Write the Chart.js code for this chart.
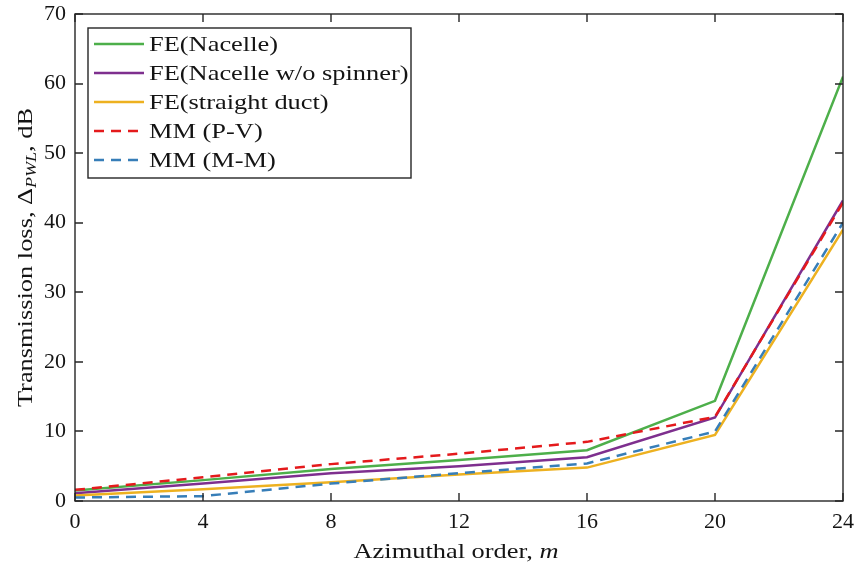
<!DOCTYPE html>
<html>
<head>
<title>Transmission loss vs azimuthal order</title>
<script src="https://cdn.jsdelivr.net/npm/chart.js"></script>
<style>
 body { margin: 0; background: #fff; }
</style>
</head>
<body>
<canvas id="tlChart" width="856" height="566"></canvas>
<script>
 // azimuthal orders and transmission loss (dB) per model
 const azimuthalOrder = [0, 4, 8, 12, 16, 20, 24];
 const feNacelle = [1.5, 3.0, 4.6, 5.9, 7.3, 14.4, 61.0];
 const feNacelleNoSpinner = [1.1, 2.5, 4.0, 5.0, 6.3, 12.0, 43.2];
 const feStraightDuct = [0.8, 1.7, 2.7, 3.8, 4.8, 9.5, 39.0];
 const mmPV = [1.6, 3.4, 5.3, 6.8, 8.5, 12.1, 42.9];
 const mmMM = [0.5, 0.7, 2.5, 4.0, 5.4, 10.0, 40.0];
 const xTicks = [0, 4, 8, 12, 16, 20, 24];
 const yTicks = [0, 10, 20, 30, 40, 50, 60, 70];

 const serif = "'Liberation Serif', 'DejaVu Serif', serif";
 const axisColor = '#262626';
 const textColor = '#141414';
 const SX = 1.2; // widen the narrow serif a little

 function pts(vals) {
  return azimuthalOrder.map((x, i) => ({ x: x, y: vals[i] }));
 }

 // draw text horizontally stretched by SX, returns drawn width
 function wideText(ctx, text, x, y, font, align) {
  ctx.font = font;
  const w = ctx.measureText(text).width * SX;
  let sx = x;
  if (align === 'center') sx = x - w / 2;
  else if (align === 'right') sx = x - w;
  ctx.save();
  ctx.translate(sx, y);
  ctx.scale(SX, 1);
  ctx.textAlign = 'left';
  ctx.fillText(text, 0, 0);
  ctx.restore();
  return w;
 }

 const series = [
  { label: 'FE(Nacelle)', data: feNacelle, color: '#4daf4a', dash: [], order: 4 },
  { label: 'FE(Nacelle w/o spinner)', data: feNacelleNoSpinner, color: '#7e2f8e', dash: [], order: 3 },
  { label: 'FE(straight duct)', data: feStraightDuct, color: '#edb120', dash: [], order: 2 },
  { label: 'MM (P-V)', data: mmPV, color: '#e41a1c', dash: [10, 7], order: 1 },
  { label: 'MM (M-M)', data: mmMM, color: '#377eb8', dash: [10, 7], order: 0 }
 ];

 // box, inward ticks on all four sides, tick labels
 const frame = {
  id: 'frame',
  afterDatasetsDraw(chart) {
   const { ctx, chartArea: a, scales } = chart;
   const L = Math.round(a.left), R = Math.round(a.right);
   const T = Math.round(a.top), B = Math.round(a.bottom);
   ctx.save();
   ctx.strokeStyle = axisColor;
   ctx.lineWidth = 1.4;
   ctx.beginPath();
   xTicks.forEach(v => {
    const px = Math.round(scales.x.getPixelForValue(v));
    ctx.moveTo(px, B); ctx.lineTo(px, B - 8);
    ctx.moveTo(px, T); ctx.lineTo(px, T + 8);
   });
   yTicks.forEach(v => {
    const py = Math.round(scales.y.getPixelForValue(v));
    ctx.moveTo(L, py); ctx.lineTo(L + 8, py);
    ctx.moveTo(R, py); ctx.lineTo(R - 8, py);
   });
   ctx.stroke();
   ctx.strokeRect(L, T, R - L, B - T);

   ctx.fillStyle = textColor;
   ctx.font = '22px ' + serif;
   ctx.textBaseline = 'middle';
   ctx.textAlign = 'right';
   yTicks.forEach(v => ctx.fillText(String(v), L - 9, scales.y.getPixelForValue(v)));
   ctx.textAlign = 'center';
   xTicks.forEach(v => ctx.fillText(String(v), scales.x.getPixelForValue(v), B + 21));
   ctx.restore();
  }
 };

 // legend box in the upper left of the plot
 const legendBox = {
  id: 'legendBox',
  afterDraw(chart) {
   const ctx = chart.ctx;
   const x0 = 88, y0 = 28, w = 323, h = 150, row = 29;
   ctx.save();
   ctx.fillStyle = '#fff';
   ctx.fillRect(x0, y0, w, h);
   ctx.strokeStyle = axisColor;
   ctx.lineWidth = 1.4;
   ctx.strokeRect(x0, y0, w, h);
   ctx.textBaseline = 'alphabetic';
   chart.data.datasets.forEach((ds, i) => {
    const y = y0 + 16 + i * row;
    ctx.strokeStyle = ds.borderColor;
    ctx.lineWidth = 2.5;
    ctx.setLineDash(ds.borderDash);
    ctx.beginPath();
    ctx.moveTo(x0 + 6, y);
    ctx.lineTo(x0 + 56, y);
    ctx.stroke();
    ctx.setLineDash([]);
    ctx.fillStyle = textColor;
    wideText(ctx, ds.label, x0 + 61, y + 7, '22px ' + serif, 'left');
   });
   ctx.restore();
  }
 };

 // axis titles, with subscript and italic parts
 const axisTitles = {
  id: 'axisTitles',
  afterDraw(chart) {
   const { ctx, chartArea: a } = chart;
   ctx.save();
   ctx.fillStyle = textColor;
   ctx.textBaseline = 'alphabetic';

   function runs(parts) {
    let total = 0;
    parts.forEach(p => { ctx.font = p.f; p.w = ctx.measureText(p.t).width * SX; total += p.w; });
    let px = -total / 2;
    parts.forEach(p => {
     wideText(ctx, p.t, px, p.dy, p.f, 'left');
     px += p.w;
    });
   }

   // x title
   ctx.save();
   ctx.translate((a.left + a.right) / 2 - 3, 558);
   runs([
    { t: 'Azimuthal order, ', f: '22px ' + serif, dy: 0 },
    { t: 'm', f: 'italic 22px ' + serif, dy: 0 }
   ]);
   ctx.restore();

   // y title, rotated
   ctx.save();
   ctx.translate(32, (a.top + a.bottom) / 2);
   ctx.rotate(-Math.PI / 2);
   runs([
    { t: 'Transmission loss, \u0394', f: '22px ' + serif, dy: 0 },
    { t: 'PWL', f: 'italic 15px ' + serif, dy: 4 },
    { t: ', dB', f: '22px ' + serif, dy: 0 }
   ]);
   ctx.restore();
   ctx.restore();
  }
 };

 const chart = new Chart(document.getElementById('tlChart'), {
  type: 'line',
  data: {
   datasets: series.map(s => ({
    label: s.label,
    data: pts(s.data),
    borderColor: s.color,
    backgroundColor: s.color,
    borderDash: s.dash,
    borderWidth: 2.5,
    pointRadius: 0,
    tension: 0,
    fill: false,
    order: s.order
   }))
  },
  options: {
   responsive: false,
   animation: false,
   layout: { padding: { left: 0, top: 14, right: 13, bottom: 0 } },
   plugins: { legend: { display: false }, tooltip: { enabled: false } },
   scales: {
    x: {
     type: 'linear',
     min: 0, max: 24,
     afterBuildTicks: s => { s.ticks = xTicks.map(v => ({ value: v })); },
     afterFit: s => { s.height = 65; },
     grid: { display: false, drawTicks: false },
     border: { display: false },
     ticks: { display: false }
    },
    y: {
     min: 0, max: 70,
     afterBuildTicks: s => { s.ticks = yTicks.map(v => ({ value: v })); },
     afterFit: s => { s.width = 75; },
     grid: { display: false, drawTicks: false },
     border: { display: false },
     ticks: { display: false }
    }
   }
  },
  plugins: [frame, legendBox, axisTitles]
 });
</script>
</body>
</html>
